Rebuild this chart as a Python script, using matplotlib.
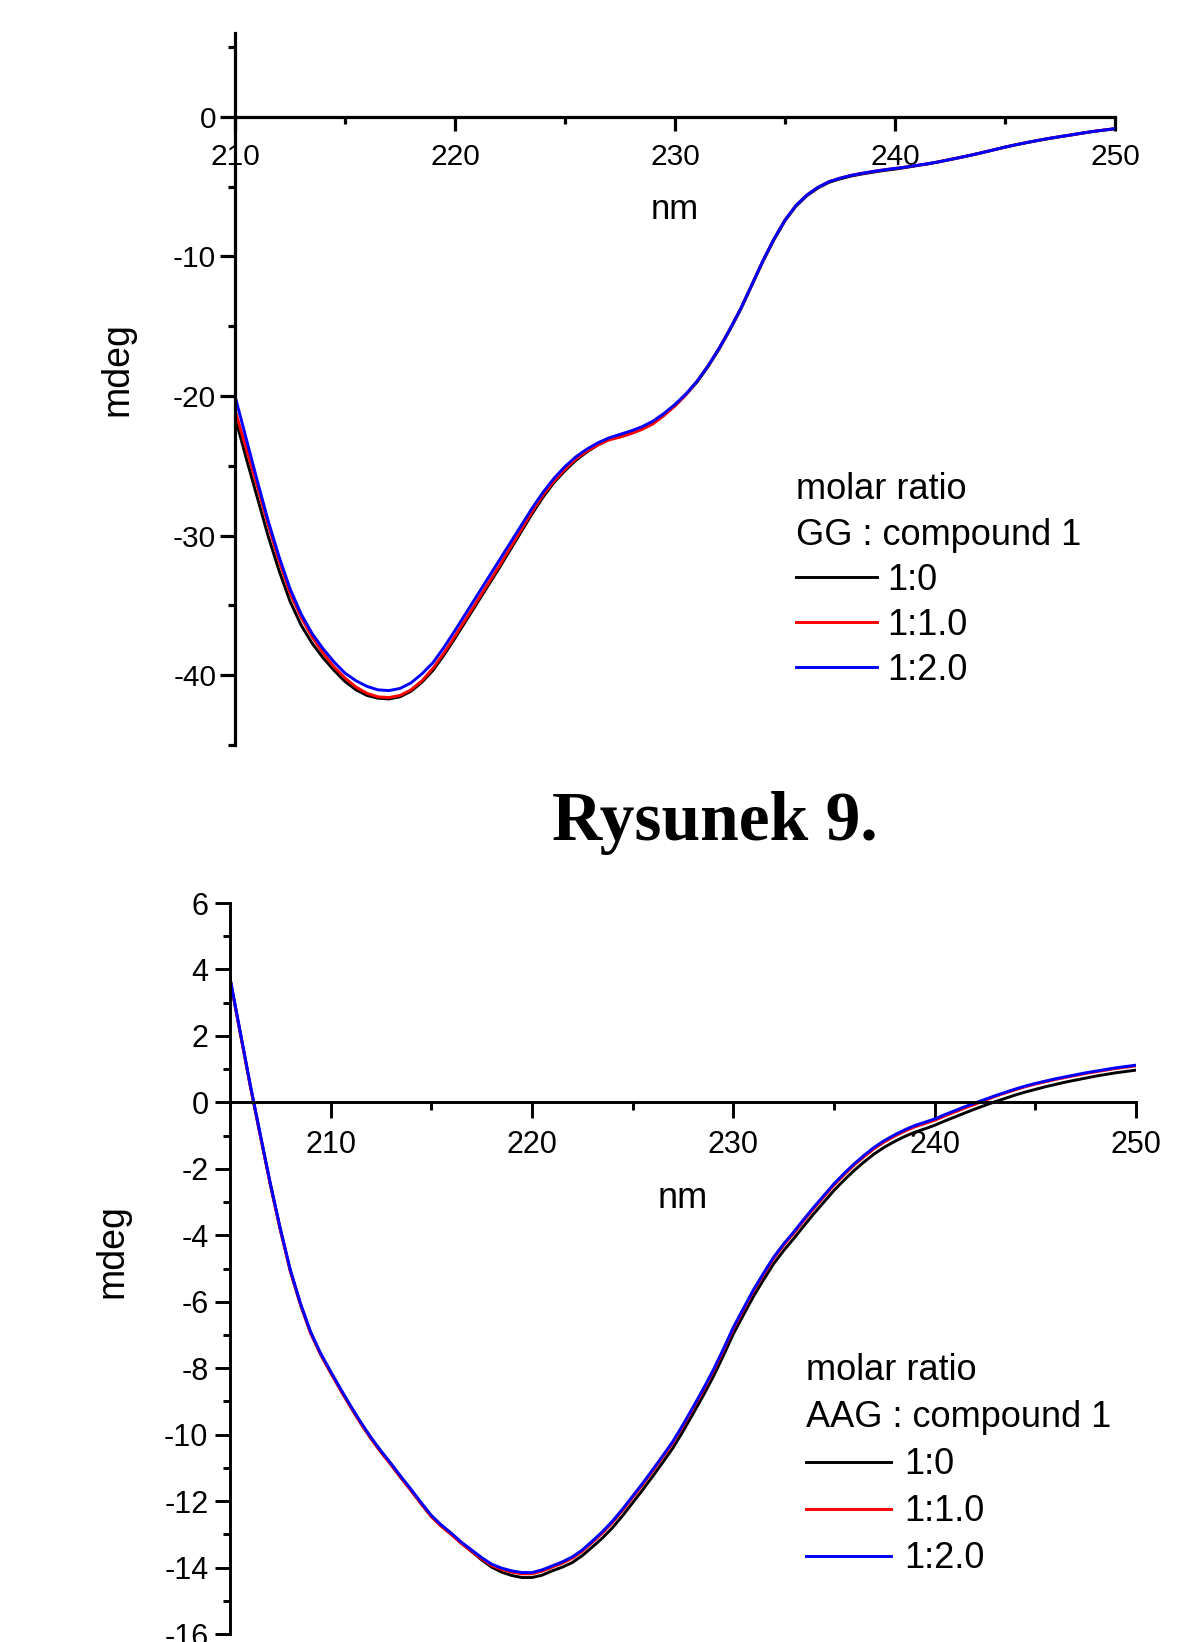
import numpy as np
import matplotlib
matplotlib.use("Agg")
import matplotlib.pyplot as plt
from matplotlib.ticker import MultipleLocator

plt.rcParams['font.family'] = ['Liberation Sans', 'DejaVu Sans']
plt.rcParams['axes.unicode_minus'] = False

# ---- top panel: GG : compound 1 (210-250 nm, 0.5 nm step) ----
gg_nm = np.arange(210, 250.01, 0.5)
gg_1_0 = [-21.5, -24.4, -27.2, -30.0, -32.5, -34.7, -36.4, -37.7, -38.75, -39.65,
          -40.45, -41.05, -41.45, -41.65, -41.7, -41.55, -41.15, -40.5, -39.65, -38.55,
          -37.35, -36.1, -34.85, -33.6, -32.35, -31.05, -29.75, -28.45, -27.25, -26.2,
          -25.35, -24.6, -24.0, -23.5, -23.1, -22.85, -22.6, -22.3, -21.9, -21.35,
          -20.7, -19.9, -19.0, -17.9, -16.65, -15.25, -13.75, -12.05, -10.35, -8.8,
          -7.45, -6.4, -5.65, -5.1, -4.7, -4.45, -4.25, -4.1, -3.97, -3.85,
          -3.75, -3.63, -3.5, -3.38, -3.23, -3.07, -2.91, -2.74, -2.56, -2.37,
          -2.18, -2.01, -1.85, -1.7, -1.56, -1.43, -1.31, -1.18, -1.06, -0.96, -0.86]
gg_1_1 = [-21.0, -23.7, -26.4, -29.2, -31.8, -34.1, -35.85, -37.25, -38.4, -39.4,
          -40.2, -40.85, -41.3, -41.55, -41.6, -41.45, -41.05, -40.4, -39.5, -38.4,
          -37.2, -35.95, -34.7, -33.45, -32.2, -30.9, -29.6, -28.3, -27.1, -26.1,
          -25.25, -24.5, -23.95, -23.5, -23.15, -22.95, -22.7, -22.4, -22.0, -21.4,
          -20.7, -19.9, -18.95, -17.85, -16.6, -15.2, -13.7, -12.0, -10.3, -8.75,
          -7.4, -6.35, -5.6, -5.05, -4.65, -4.4, -4.2, -4.05, -3.92, -3.8,
          -3.7, -3.6, -3.48, -3.36, -3.22, -3.06, -2.9, -2.73, -2.55, -2.36,
          -2.17, -2.0, -1.84, -1.69, -1.55, -1.42, -1.3, -1.17, -1.05, -0.95, -0.85]
gg_1_2 = [-20.0, -23.0, -26.0, -28.9, -31.5, -33.8, -35.6, -37.0, -38.1, -39.05,
          -39.85, -40.4, -40.8, -41.05, -41.1, -40.95, -40.55, -39.9, -39.1, -38.0,
          -36.8, -35.55, -34.3, -33.05, -31.8, -30.55, -29.3, -28.05, -26.9, -25.9,
          -25.05, -24.35, -23.8, -23.35, -23.0, -22.75, -22.5, -22.2, -21.8, -21.25,
          -20.6, -19.85, -18.95, -17.85, -16.6, -15.2, -13.7, -12.0, -10.3, -8.75,
          -7.4, -6.35, -5.6, -5.05, -4.65, -4.4, -4.2, -4.05, -3.92, -3.8,
          -3.7, -3.6, -3.48, -3.36, -3.22, -3.06, -2.9, -2.73, -2.55, -2.36,
          -2.17, -2.0, -1.84, -1.69, -1.55, -1.42, -1.3, -1.17, -1.05, -0.95, -0.85]

# ---- bottom panel: AAG : compound 1 (205-250 nm, 0.5 nm step) ----
aag_nm = np.arange(205, 250.01, 0.5)
aag_1_0 = [3.72, 2.12, 0.52, -0.98, -2.46, -3.83, -5.08, -6.08, -6.93, -7.58,
           -8.13, -8.66, -9.17, -9.66, -10.11, -10.52, -10.90, -11.30, -11.68, -12.08,
           -12.46, -12.75, -13.00, -13.27, -13.52, -13.77, -13.99, -14.14, -14.24, -14.30,
           -14.30, -14.23, -14.10, -13.99, -13.85, -13.64, -13.38, -13.11, -12.80, -12.44,
           -12.05, -11.66, -11.25, -10.83, -10.40, -9.90, -9.37, -8.83, -8.26, -7.63,
           -6.97, -6.40, -5.84, -5.34, -4.86, -4.46, -4.10, -3.72, -3.35, -3.00,
           -2.65, -2.34, -2.05, -1.79, -1.55, -1.35, -1.18, -1.03, -0.90, -0.80,
           -0.69, -0.56, -0.44, -0.32, -0.20, -0.09, 0.02, 0.12, 0.22, 0.31,
           0.39, 0.47, 0.54, 0.61, 0.67, 0.73, 0.79, 0.84, 0.89, 0.93, 0.97]
aag_1_1 = [3.71, 2.11, 0.51, -0.99, -2.47, -3.84, -5.09, -6.09, -6.94, -7.59,
           -8.14, -8.67, -9.18, -9.67, -10.12, -10.53, -10.91, -11.31, -11.69, -12.09,
           -12.47, -12.76, -13.01, -13.28, -13.51, -13.74, -13.94, -14.06, -14.14, -14.19,
           -14.19, -14.11, -13.99, -13.87, -13.72, -13.51, -13.24, -12.96, -12.64, -12.28,
           -11.89, -11.50, -11.09, -10.67, -10.24, -9.74, -9.21, -8.67, -8.10, -7.47,
           -6.81, -6.24, -5.68, -5.18, -4.70, -4.30, -3.94, -3.56, -3.19, -2.84,
           -2.49, -2.18, -1.89, -1.63, -1.39, -1.19, -1.02, -0.87, -0.74, -0.64,
           -0.54, -0.41, -0.29, -0.17, -0.06, 0.06, 0.18, 0.28, 0.38, 0.47,
           0.55, 0.62, 0.69, 0.75, 0.81, 0.87, 0.92, 0.97, 1.02, 1.06, 1.10]
aag_1_2 = [3.75, 2.15, 0.55, -0.95, -2.43, -3.80, -5.05, -6.05, -6.90, -7.55,
           -8.10, -8.63, -9.14, -9.63, -10.08, -10.49, -10.87, -11.27, -11.65, -12.05,
           -12.43, -12.72, -12.97, -13.24, -13.47, -13.70, -13.90, -14.02, -14.10, -14.15,
           -14.15, -14.07, -13.95, -13.83, -13.68, -13.47, -13.20, -12.92, -12.60, -12.24,
           -11.85, -11.46, -11.05, -10.63, -10.20, -9.70, -9.17, -8.63, -8.06, -7.43,
           -6.77, -6.20, -5.64, -5.14, -4.66, -4.26, -3.90, -3.52, -3.15, -2.80,
           -2.45, -2.14, -1.85, -1.59, -1.35, -1.15, -0.98, -0.83, -0.70, -0.60,
           -0.50, -0.37, -0.25, -0.13, -0.02, 0.09, 0.20, 0.30, 0.40, 0.49,
           0.57, 0.64, 0.71, 0.77, 0.83, 0.89, 0.94, 0.99, 1.04, 1.08, 1.12]

ratio_labels = ['1:0', '1:1.0', '1:2.0']
line_colors = ['#000000', '#ff0000', '#0000ff']


def style_axis(ax, xmaj_len, ymaj_len, xpad, ypad, lw, fs):
    ax.spines['top'].set_visible(False)
    ax.spines['right'].set_visible(False)
    ax.spines['bottom'].set_position(('data', 0))
    for s in ('left', 'bottom'):
        ax.spines[s].set_linewidth(lw)
    ax.xaxis.set_major_locator(MultipleLocator(10))
    ax.xaxis.set_minor_locator(MultipleLocator(5))
    ax.tick_params(axis='x', which='major', direction='out', length=xmaj_len,
                   width=lw, pad=xpad, labelsize=fs)
    ax.tick_params(axis='x', which='minor', direction='out', length=xmaj_len * 0.5,
                   width=lw)
    ax.tick_params(axis='y', which='major', direction='out', length=ymaj_len,
                   width=lw, pad=ypad, labelsize=fs)
    ax.tick_params(axis='y', which='minor', direction='out', length=ymaj_len * 0.5,
                   width=lw)


fig = plt.figure(figsize=(11.97, 16.42), dpi=100)

# top panel
ax1 = fig.add_axes([235 / 1197, 1 - 745 / 1642, 880 / 1197, 712 / 1642])
for y, lab, c in zip([gg_1_0, gg_1_1, gg_1_2], ratio_labels, line_colors):
    ax1.plot(gg_nm, y, color=c, linewidth=2.1, label=lab)
ax1.set_xlim(210, 250)
ax1.set_ylim(-45, 6)
style_axis(ax1, 10, 10.5, 9, 3, 2.3, 21.5)
ax1.yaxis.set_major_locator(MultipleLocator(10))
ax1.yaxis.set_minor_locator(MultipleLocator(5))
ax1.annotate('nm', xy=(0.5, 0), xycoords=('axes fraction', 'data'),
             xytext=(0, -66.8), textcoords='offset points',
             ha='center', va='center', fontsize=25)
leg1 = ax1.legend(title='molar ratio\nGG : compound 1', alignment='left',
                  loc='upper left', bbox_to_anchor=(796 / 1197, 1 - 472 / 1642),
                  bbox_transform=fig.transFigure, frameon=False, borderpad=0,
                  borderaxespad=0, fontsize=26, title_fontsize=26,
                  handlelength=2.25, handletextpad=0.28, labelspacing=0.28)
leg1.get_title().set_linespacing(1.40)
for h in leg1.get_lines():
    h.set_linewidth(2.1)
fig.text(117 / 1197, 1 - 369 / 1642, 'mdeg', rotation=90, ha='center',
         va='center', fontsize=27)

# caption between the panels
fig.text(715 / 1197, 1 - 823 / 1642, 'Rysunek 9.', ha='center', va='center',
         fontsize=50, fontweight='bold', family=['Liberation Serif', 'DejaVu Serif'])

# bottom panel
ax2 = fig.add_axes([230 / 1197, 1 - 1634 / 1642, 906 / 1197, 731 / 1642])
for y, lab, c in zip([aag_1_0, aag_1_1, aag_1_2], ratio_labels, line_colors):
    ax2.plot(aag_nm, y, color=c, linewidth=2.1, label=lab)
ax2.set_xlim(205, 250)
ax2.set_ylim(-16, 6)
style_axis(ax2, 11.5, 10.5, 8.7, 5, 2.1, 22)
ax2.set_xticks([210, 220, 230, 240, 250])
ax2.yaxis.set_major_locator(MultipleLocator(2))
ax2.yaxis.set_minor_locator(MultipleLocator(1))
ax2.annotate('nm', xy=(0.5, 0), xycoords=('axes fraction', 'data'),
             xytext=(0, -69.5), textcoords='offset points',
             ha='center', va='center', fontsize=26)
leg2 = ax2.legend(title='molar ratio\nAAG : compound 1', alignment='left',
                  loc='upper left', bbox_to_anchor=(806 / 1197, 1 - 1353 / 1642),
                  bbox_transform=fig.transFigure, frameon=False, borderpad=0,
                  borderaxespad=0, fontsize=26, title_fontsize=26,
                  handlelength=2.35, handletextpad=0.36, labelspacing=0.33)
leg2.get_title().set_linespacing(1.46)
for h in leg2.get_lines():
    h.set_linewidth(2.1)
fig.text(112 / 1197, 1 - 1251 / 1642, 'mdeg', rotation=90, ha='center',
         va='center', fontsize=27)

fig.savefig('out.png', dpi=100)
plt.close(fig)
